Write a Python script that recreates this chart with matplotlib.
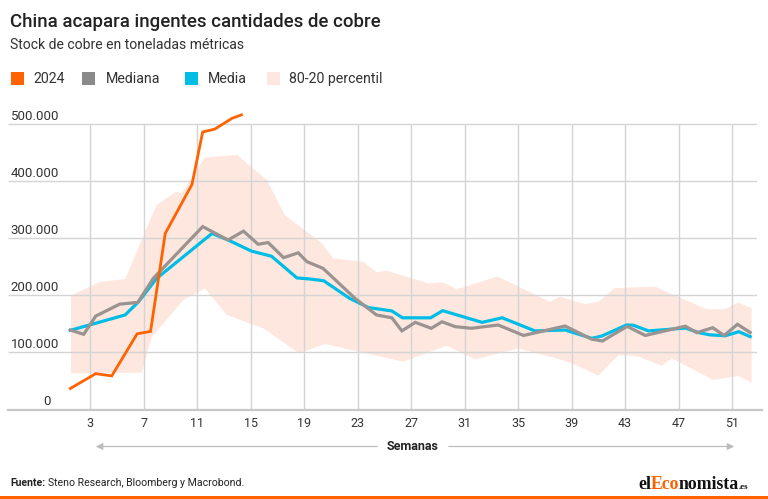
import matplotlib
matplotlib.use("Agg")
import matplotlib.pyplot as plt
from matplotlib.lines import Line2D
from matplotlib.patches import Rectangle, FancyArrowPatch

plt.rcParams['font.family'] = ['Roboto', 'DejaVu Sans']

# ---------------- data (values in metric tonnes, x in weeks) ----------------
weeks_2024 = [1.0, 2.9, 4.1, 6.0, 7.0, 8.1, 10.1, 10.9, 11.8, 13.1, 13.8]
vals_2024 = [36000, 62000, 58000, 132000, 136000, 308000, 394000, 486000, 491000, 510000, 516000]

weeks_median = [1.0, 2.0, 2.9, 4.7, 6.05, 7.2, 10.9, 12.8, 13.95, 15.05, 15.8, 16.95, 18.05,
                18.7, 19.9, 22.3, 23.9, 25.05, 25.8, 26.8, 28.0, 28.8, 29.8, 31.0, 33.0,
                34.9, 38.0, 40.0, 40.8, 42.65, 44.0, 47.0, 47.85, 49.05, 49.9, 50.9, 51.85]
vals_median = [138600, 131000, 163000, 184000, 187000, 229000, 320000, 296500, 312000, 289000,
               292000, 265500, 274000, 258400, 246800, 194000, 165000, 160000, 137000, 152000,
               141600, 153000, 144400, 141600, 147400, 129000, 145600, 122500, 119300, 145000,
               129000, 145300, 133900, 142600, 129000, 148600, 134200]

weeks_mean = [1.0, 5.1, 6.1, 7.45, 11.6, 12.8, 14.55, 16.05, 17.95, 18.95, 19.95, 21.9, 23.3,
              25.05, 25.85, 27.95, 28.85, 31.8, 33.3, 35.75, 38.0, 40.0, 40.75, 42.6, 43.1,
              44.25, 47.0, 48.0, 48.85, 50.0, 51.0, 51.85]
vals_mean = [138000, 165000, 188000, 229000, 308000, 296500, 277000, 268000, 230000, 228000,
             225000, 194000, 178000, 172000, 160000, 160000, 172500, 152000, 160000, 137000,
             138600, 124000, 128000, 147400, 147000, 137000, 142000, 134000, 130000, 128600,
             135600, 127000]

weeks_p80 = [1.05, 3.2, 5.1, 7.45, 8.9, 9.35, 11.05, 13.45, 15.7, 17.05, 19.8, 20.67, 22.9,
             23.92, 24.66, 27.78, 28.85, 29.9, 32.95, 36.88, 37.63, 39.5, 40.5, 41.73, 44.73,
             48.6, 49.97, 50.96, 51.96]
vals_p80 = [199000, 223000, 228000, 358000, 381000, 379000, 441000, 446000, 402000, 340000,
            291000, 264400, 258400, 240000, 242600, 220500, 222000, 210000, 232500, 188000,
            197000, 184000, 188000, 212000, 214600, 175000, 175000, 187000, 176700]

weeks_p20 = [1.05, 6.34, 7.09, 9.45, 11.07, 12.7, 15.43, 18.1, 20.05, 25.9, 29.15, 31.3, 34.5,
             37.63, 38.5, 40.5, 42.0, 43.36, 45.23, 45.98, 49.1, 50.96, 51.96]
vals_p20 = [62600, 63700, 125800, 191000, 211800, 165000, 141600, 97700, 114000, 83000, 111000,
            87000, 106500, 87000, 80000, 58500, 94700, 93000, 76000, 89000, 50900, 58000, 46000]

y_ticks = [0, 100000, 200000, 300000, 400000, 500000]
y_tick_labels = ['0', '100.000', '200.000', '300.000', '400.000', '500.000']
x_tick_pos = [2.5, 6.5, 10.5, 14.5, 18.5, 22.5, 26.5, 30.5, 34.5, 38.5, 42.5, 46.5, 50.5]
x_tick_labels = ['3', '7', '11', '15', '19', '23', '27', '31', '35', '39', '43', '47', '51']

series_names = ['2024', 'Mediana', 'Media', '80-20 percentil']

# ---------------- style ----------------
C_ORANGE = '#ff6200'
C_GRAY = '#9b9390'
C_GRAY_LEG = '#8a8a8a'
C_BLUE = '#00bde6'
C_BAND = '#fde7df'
C_GRID = '#d4d4d4'
C_TEXT = '#222222'
NARROW = ['Liberation Sans Narrow', 'Roboto', 'DejaVu Sans']

W, H = 768, 499
fig = plt.figure(figsize=(W / 100, H / 100), dpi=100)
fig.patch.set_facecolor('white')


def fx(px):
    return px / W


def fy(py):
    return 1 - py / H


# axes spanning px x 8..757, y 106.9..409
ax_left, ax_right = 8, 757
ax_top, ax_bot = 106.9, 409
ax = fig.add_axes([fx(ax_left), fy(ax_bot), (ax_right - ax_left) / W, (ax_bot - ax_top) / H])
ax.set_xlim(-3.66, 52.36)
ax.set_ylim(0, 530000)
for s in ax.spines.values():
    s.set_visible(False)
ax.set_yticks([])
ax.set_xticks(x_tick_pos)
ax.set_xticklabels(x_tick_labels, fontsize=9, color='#333333', family=NARROW)
ax.tick_params(axis='x', length=0, pad=6)
ax.set_facecolor('none')

# band
ax.fill(weeks_p80 + weeks_p20[::-1], vals_p80 + vals_p20[::-1], color=C_BAND, lw=0, zorder=1)

# grid
ax.hlines(y_ticks[1:], -3.66, 52.36, color=C_GRID, lw=1, zorder=2)
ax.vlines(x_tick_pos, 0, 500000, color=C_GRID, lw=1, zorder=2)

# y labels above grid lines
for v, lab in zip(y_ticks, y_tick_labels):
    if v == 0:
        ax.text(-0.45, v + 7500, lab, ha='right', va='baseline', fontsize=9.5, color='#333333', zorder=3)
    else:
        ax.text(-3.45, v + 7500, lab, ha='left', va='baseline', fontsize=9.5, color='#333333', zorder=3)

# lines
ax.plot(weeks_mean, vals_mean, color=C_BLUE, lw=2.3, zorder=4, solid_joinstyle='miter')
ax.plot(weeks_median, vals_median, color=C_GRAY, lw=2.3, zorder=5, solid_joinstyle='miter')
ax.plot(weeks_2024, vals_2024, color=C_ORANGE, lw=2.0, zorder=6, solid_joinstyle='miter')

# baseline
fig.add_artist(Line2D([fx(8), fx(762)], [fy(409.5), fy(409.5)], color='#c8c8c8', lw=1.6))

# title / subtitle
fig.text(fx(10), fy(27), 'China acapara ingentes cantidades de cobre', fontsize=13.4,
         fontweight='medium', color=C_TEXT, va='baseline', ha='left')
fig.text(fx(10), fy(49), 'Stock de cobre en toneladas métricas', fontsize=10.1,
         color='#333333', va='baseline', ha='left')

# legend
leg_items = [(11, 33, C_ORANGE), (82, 106, C_GRAY_LEG), (185, 208, C_BLUE), (267, 289, C_BAND)]
for (sx, tx, col), name in zip(leg_items, series_names):
    fig.add_artist(Rectangle((fx(sx), fy(85)), 13 / W, 13 / H, transform=fig.transFigure,
                             facecolor=col, edgecolor='none'))
    fig.text(fx(tx), fy(83.3), name, fontsize=10.2, color='#333333', va='baseline', ha='left')

# Semanas arrow
ya = fy(446.5)
fig.add_artist(FancyArrowPatch((fx(380), ya), (fx(93), ya), transform=fig.transFigure,
                               arrowstyle='-|>,head_length=4,head_width=2', color='#bdbdbd',
                               lw=0.9, mutation_scale=1))
fig.add_artist(FancyArrowPatch((fx(446), ya), (fx(737), ya), transform=fig.transFigure,
                               arrowstyle='-|>,head_length=4,head_width=2', color='#bdbdbd',
                               lw=0.9, mutation_scale=1))
fig.text(fx(413), ya, 'Semanas', fontsize=9, fontweight='bold', color='#222222', ha='center',
         va='center', family=NARROW)

# footer
t1 = fig.text(fx(10), fy(486), 'Fuente:', fontsize=7.6, fontweight='bold', color='#222222',
              va='baseline', ha='left', family=NARROW)
fig.canvas.draw()
bb = t1.get_window_extent()
fig.text(bb.x1 / W + 3 / W, fy(486), 'Steno Research, Bloomberg y Macrobond.', fontsize=7.6,
         color='#222222', va='baseline', ha='left', family=NARROW)

# logo
logo_parts = [('el', '#111111', 12.8), ('Eco', C_ORANGE, 12.8), ('nomista', '#111111', 12.8),
              ('.es', '#111111', 6.5)]
x_cur = 638
r = fig.canvas.get_renderer()
for txt, col, sz in logo_parts:
    t = fig.text(fx(x_cur), fy(489), txt, fontsize=sz, fontweight='bold', color=col,
                 family=['Liberation Serif', 'DejaVu Serif'], va='baseline', ha='left')
    x_cur = t.get_window_extent(renderer=r).x1 - 0.5

# bottom orange bar
fig.add_artist(Rectangle((0, 0), 1, 3 / H, transform=fig.transFigure, facecolor=C_ORANGE,
                         edgecolor='none'))

fig.savefig('out.png', dpi=100, facecolor='white')
